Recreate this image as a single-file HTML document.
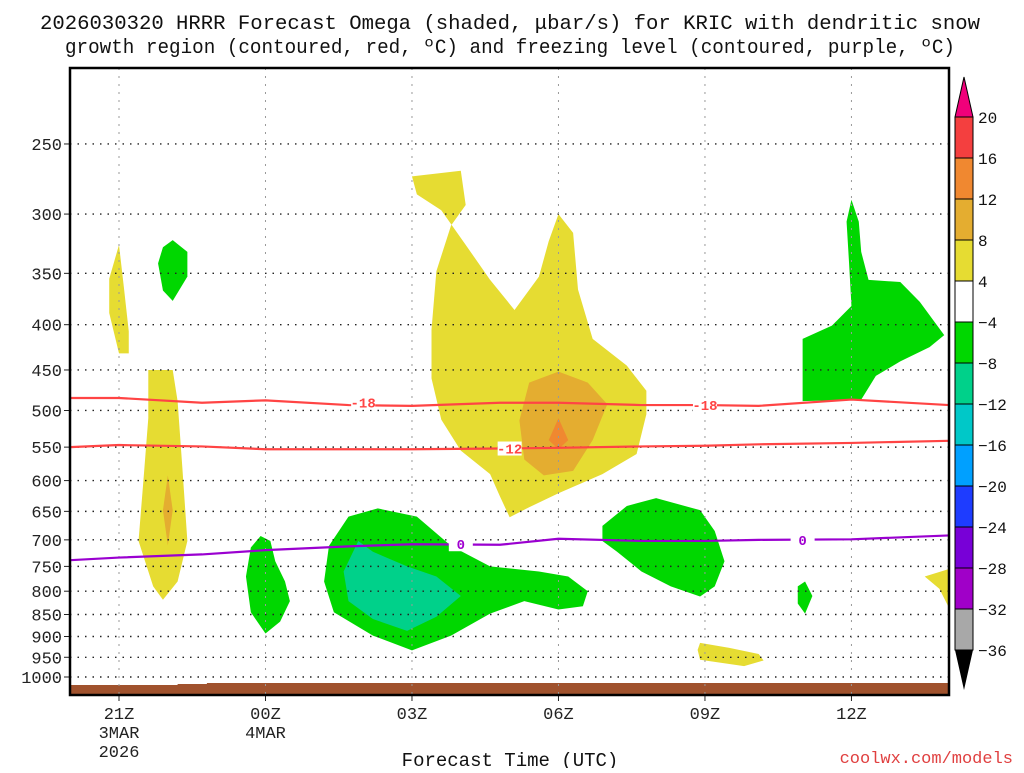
<!DOCTYPE html>
<html><head><meta charset="utf-8"><style>
html,body{margin:0;padding:0;background:#fff;}
svg text{font-family:"Liberation Mono","DejaVu Sans Mono",monospace;}
</style></head><body>
<svg id="chart" width="1024" height="768" xmlns="http://www.w3.org/2000/svg">
<g id="title" font-size="20" fill="#111" text-anchor="middle">
<text x="510" y="29" textLength="940" lengthAdjust="spacingAndGlyphs">2026030320 HRRR Forecast Omega (shaded, μbar/s) for KRIC with dendritic snow</text>
<text x="510" y="53" textLength="890" lengthAdjust="spacingAndGlyphs">growth region (contoured, red, ºC) and freezing level (contoured, purple, ºC)</text>
</g>
<g id="plot"></g>
<g id="cbar"></g>
<text x="510" y="766" font-size="19" text-anchor="middle" fill="#111">Forecast Time (UTC)</text>
<text x="1013" y="763" font-size="17" text-anchor="end" fill="#e04040">coolwx.com/models</text>
</svg>
<script>
const pTicks=[250,300,350,400,450,500,550,600,650,700,750,800,850,900,950,1000];
const hTicks=[21,24,27,30,33,36];
const hLabels=[["21Z","3MAR","2026"],["00Z","4MAR"],["03Z"],["06Z"],["09Z"],["12Z"]];
const cbLevels=[20,16,12,8,4,-4,-8,-12,-16,-20,-24,-28,-32,-36];
const cbColors=["#f43f3f","#f08830","#e4ad30","#e6dc32","#ffffff","#00d700","#00d18a","#00c8c8","#00a0ff","#1e3cff","#7800d7","#a000c8","#a8a8a8"];
const yellowMainH=[27.0,28.0,28.1,27.8,27.5,27.4,27.4,27.6,28.0,28.6,28.8,29.0,29.4,30.0,30.9,31.6,31.8,31.8,31.4,30.7,30.4,30.3,30.0,29.8,29.6,29.1,28.6,28.1,27.6,27.1];
const yellowMainP=[272,268,293,309,348,405,460,512,555,590,625,660,643,620,590,560,505,475,445,415,365,315,300,322,353,385,356,325,297,285];
const orangeMainH=[29.4,30.0,30.6,31.0,30.7,30.3,29.7,29.3,29.2];
const orangeMainP=[465,452,465,492,540,585,592,568,513];
const darkOrangeH=[30.0,30.2,30.0,29.8];
const darkOrangeP=[510,540,553,540];
const yellowThinH=[20.8,21.0,21.1,21.2,21.2,21.0,20.8];
const yellowThinP=[355,325,363,407,431,431,388];
const yellowColH=[21.6,22.1,22.2,22.3,22.4,22.2,21.9,21.7,21.4,21.5,21.6];
const yellowColP=[450,450,488,583,702,780,818,790,702,600,510];
const orangeColH=[22.0,22.1,22.0,21.9];
const orangeColP=[592,648,710,648];
const greenTopLH=[21.9,22.1,22.4,22.4,22.1,21.9,21.8];
const greenTopLP=[327,321,331,353,376,366,341];
const green00H=[23.9,24.1,24.2,24.4,24.5,24.3,24.0,23.7,23.6,23.7];
const green00P=[693,702,740,780,821,866,893,845,770,714];
const greenBigH=[25.7,26.3,27.1,27.8,28.6,29.6,30.2,30.6,30.5,30.0,29.3,28.6,27.8,27.0,26.2,25.4,25.2,25.3];
const greenBigP=[659,645,659,711,750,760,770,800,832,839,821,848,898,933,898,845,780,711];
const tealH=[25.9,26.2,26.9,27.5,28.0,27.5,26.9,26.2,25.7,25.6];
const tealP=[702,722,750,770,810,855,887,860,821,760];
const greenRH=[30.9,31.4,32.0,32.9,33.2,33.4,33.2,32.9,32.3,31.7,31.2,30.9];
const greenRP=[675,641,628,648,684,740,790,811,790,760,722,702];
const greenSmH=[35.05,35.2,35.05,34.9,34.9];
const greenSmP=[780,810,848,826,790];
const greenURH=[36.0,36.15,36.2,36.35,37.0,37.4,37.9,37.6,37.0,36.5,36.2,35.0,35.0,35.6,36.0,35.95,35.9];
const greenURP=[289,306,331,356,358,377,411,424,440,457,486,488,415,401,381,340,306];
const yellowBRH=[32.9,33.5,34.1,34.2,33.8,32.9,32.85];
const yellowBRP=[915,927,942,958,972,956,932];
const yellowEdgeH=[37.5,38.0,38.0,37.8];
const yellowEdgeP=[770,755,836,795];
const lineH=[20,21,22.7,24,25.7,27,28.8,30,31.7,33,34.1,36,38];
const iso18P=[484,484,490,487,493,494,490,490,493,493,494,486,493];
const iso12P=[550,547,549,553,553,553,552,551,549,548,546,544,541];
const frzP=[738,733,727,719,712,708,709,698,702,702,700,699,692];
const labels=[["-18",26.0,490,"#f44"],["-18",33.0,493,"#f44"],["-12",29.0,552,"#f44"],["0",28.0,708,"#a000d0"],["0",35.0,700,"#a000d0"]];

const L=70,R=949,T=68,B=695;
const X=h=>119+(h-21)*48.83;
const Y=p=>677-384.5*Math.log(1000/p);
const NS="http://www.w3.org/2000/svg";
const plot=document.getElementById('plot');
function mk(tag,attrs,parent){const e=document.createElementNS(NS,tag);for(const k in attrs)e.setAttribute(k,attrs[k]);(parent||plot).appendChild(e);return e;}
const clip=mk('clipPath',{id:'pc'});mk('rect',{x:L,y:T,width:R-L,height:B-T},clip);
const gShade=mk('g',{'clip-path':'url(#pc)'});
function poly(col,hs,ps,name){const e=mk('polygon',{points:hs.map((h,i)=>X(h)+','+Y(ps[i])).join(' '),fill:col},gShade);

}
poly("#e6dc32",yellowMainH,yellowMainP,'ascent-region-main');
poly("#e4ad30",orangeMainH,orangeMainP,'ascent-core-main');
poly("#f08830",darkOrangeH,darkOrangeP,'ascent-peak-main');
poly("#e6dc32",yellowThinH,yellowThinP,'ascent-region-thin');
poly("#e6dc32",yellowColH,yellowColP,'ascent-region-column');
poly("#e4ad30",orangeColH,orangeColP,'ascent-core-column');
poly("#00d700",greenTopLH,greenTopLP,'descent-region-upper-left');
poly("#00d700",green00H,green00P,'descent-region-00z');
poly("#00d700",greenBigH,greenBigP,'descent-region-main');
poly("#00d18a",tealH,tealP,'descent-core-main');
poly("#00d700",greenRH,greenRP,'descent-region-09z');
poly("#00d700",greenSmH,greenSmP,'descent-region-small');
poly("#00d700",greenURH,greenURP,'descent-region-upper-right');
poly("#e6dc32",yellowBRH,yellowBRP,'ascent-region-lower-right');
poly("#e6dc32",yellowEdgeH,yellowEdgeP,'ascent-region-edge');
const gr=mk('polygon',{points:`${L},685 ${X(22.2)},685 ${X(22.2)},684 ${X(22.8)},684 ${X(22.8)},683 ${R},683 ${R},${B} ${L},${B}`,fill:'#a0522d'});


pTicks.forEach(p=>{const y=Y(p);
const g=mk('line',{x1:L,x2:R,y1:y,y2:y,stroke:'#222','stroke-width':1.4,'stroke-dasharray':'1.5 6'});


mk('line',{x1:L-6,x2:L,y1:y,y2:y,stroke:'#222'});
const t=mk('text',{x:L-8,y:y+6,'font-size':17,'text-anchor':'end',fill:'#222'});t.textContent=p;

});
hTicks.forEach((h,i)=>{const x=X(h);
const g=mk('line',{x1:x,x2:x,y1:T,y2:B,stroke:'#999','stroke-width':1,'stroke-dasharray':'2 6'});


mk('line',{x1:x,x2:x,y1:B,y2:B+6,stroke:'#222'});
hLabels[i].forEach((s,j)=>{const t=mk('text',{x:x,y:719+j*19,'font-size':17,'text-anchor':'middle',fill:'#222'});t.textContent=s;

});});
function line(ps,col,name){const e=mk('polyline',{points:lineH.map((h,i)=>X(h)+','+Y(ps[i])).join(' '),fill:'none',stroke:col,'stroke-width':2.2,'stroke-linejoin':'round','clip-path':'url(#pc)'});

}
line(iso18P,'#f44','isotherm-minus-18');
line(iso12P,'#f44','isotherm-minus-12');
line(frzP,'#9a00d0','freezing-level');
labels.forEach(l=>{const x=X(l[1]),y=Y(l[2]);
mk('rect',{x:x-12,y:y-7,width:24,height:14,fill:'#fff'});
const t=mk('text',{x:x,y:y+5,'font-size':14,'font-weight':'bold','text-anchor':'middle',fill:l[3]});t.textContent=l[0];

});
mk('rect',{x:L,y:T,width:R-L,height:B-T,fill:'none',stroke:'#000','stroke-width':2.5});
const cb=document.getElementById('cbar');
const cx=955,cw=18,ct=117,step=41;
const tri=mk('polygon',{points:`${cx},${ct} ${cx+cw},${ct} ${cx+cw/2},77`,fill:'#f0007a',stroke:'#000'},cb);


cbColors.forEach((c,i)=>{const r=mk('rect',{x:cx,y:ct+i*step,width:cw,height:step,fill:c,stroke:'#000','stroke-width':1},cb);

});
const tb=mk('polygon',{points:`${cx},${ct+13*step} ${cx+cw},${ct+13*step} ${cx+cw/2},${ct+13*step+40}`,fill:'#000'},cb);


cbLevels.forEach((v,i)=>{const t=mk('text',{x:978,y:ct+i*step+6,'font-size':16,fill:'#111'},cb);t.textContent=v<0?'−'+(-v):v;

});
</script>
</body></html>
